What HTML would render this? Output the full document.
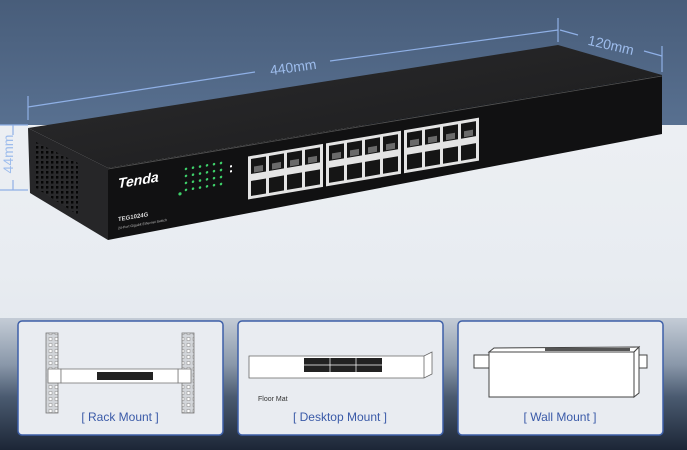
<!DOCTYPE html>
<html><head><meta charset="utf-8"><style>
html,body{margin:0;padding:0;width:687px;height:450px;overflow:hidden;font-family:"Liberation Sans",sans-serif}
</style></head><body>
<svg width="687" height="450" viewBox="0 0 687 450" xmlns="http://www.w3.org/2000/svg">
<defs>
<linearGradient id="bg" x1="0" y1="0" x2="0" y2="1">
<stop offset="0" stop-color="#485d7a"/><stop offset="1" stop-color="#587090"/></linearGradient>
<linearGradient id="floor" x1="0" y1="0" x2="0" y2="1">
<stop offset="0" stop-color="#f0f2f5"/><stop offset="0.6" stop-color="#e8ecf1"/><stop offset="1" stop-color="#dde3ea"/></linearGradient>
<linearGradient id="low" x1="0" y1="0" x2="0" y2="1">
<stop offset="0" stop-color="#c4ccd6"/><stop offset="0.35" stop-color="#8a98aa"/><stop offset="0.6" stop-color="#4a5a70"/><stop offset="1" stop-color="#1c2636"/></linearGradient>
<linearGradient id="top" x1="0" y1="0" x2="1" y2="1">
<stop offset="0" stop-color="#2c2c2e"/><stop offset="1" stop-color="#1a1a1b"/></linearGradient>
<pattern id="vent" width="5" height="5" patternUnits="userSpaceOnUse"><rect width="5" height="5" fill="#2a2a2c"/><rect x="1" y="1" width="2.4" height="2.6" fill="#050505"/></pattern>
<pattern id="rail" width="6" height="6" patternUnits="userSpaceOnUse"><rect width="6" height="6" fill="#d2d5d9"/><rect x="1" y="1.5" width="3" height="3" fill="#fff" stroke="#888" stroke-width="0.5"/></pattern>
</defs>
<rect width="687" height="450" fill="url(#floor)"/>
<rect width="687" height="125" fill="url(#bg)"/>
<rect y="318" width="687" height="132" fill="url(#low)"/>

<g stroke="#8fb0e6" stroke-width="1.2" fill="none">
<line x1="28" y1="107" x2="255" y2="72"/><line x1="330" y1="61" x2="558" y2="30"/>
<line x1="28" y1="96" x2="28" y2="120"/><line x1="558" y1="18" x2="558" y2="42"/>
<line x1="560" y1="30" x2="578" y2="35"/><line x1="644" y1="51" x2="662" y2="56"/>
<line x1="662" y1="46" x2="662" y2="72"/>
<line x1="0" y1="125" x2="28" y2="125"/><line x1="0" y1="190" x2="28" y2="190"/>
<line x1="13" y1="125" x2="13" y2="135"/><line x1="13" y1="180" x2="13" y2="190"/>
</g>
<g fill="#9dbcec" font-size="14">
<text x="293" y="72" text-anchor="middle" transform="rotate(-8 293 66)">440mm</text>
<text x="611" y="50" text-anchor="middle" transform="rotate(13 611 45)">120mm</text>
<text x="17" y="158" text-anchor="middle" transform="rotate(-90 13 158)">44mm</text>
</g>

<polygon points="28,128 558,45 662,75 108,168" fill="url(#top)"/>
<polygon points="28,128 108,168 108,240 30,193" fill="#262628"/>
<polygon points="36,142 78,163 78,215 36,188" fill="url(#vent)"/>
<polygon points="108,168 662,75 662,134 108,240" fill="#111112"/>
<line x1="108" y1="169" x2="662" y2="76" stroke="#555" stroke-width="0.8"/>
<g transform="matrix(1,-0.168,0,1,108,168)">
<text x="10" y="22" fill="#fff" font-size="14" font-style="italic" font-weight="bold">Tenda</text>
<text x="10" y="55" fill="#ddd" font-size="6" font-weight="bold">TEG1024G</text>
<text x="10" y="63" fill="#bbb" font-size="3.5">24-Port Gigabit Ethernet Switch</text>
<g fill="#3ed06a">
<circle cx="72" cy="38" r="1.6"/>
<circle cx="78" cy="14" r="1.3"/><circle cx="78" cy="21" r="1.3"/><circle cx="78" cy="28" r="1.3"/><circle cx="78" cy="35" r="1.3"/>
<circle cx="85" cy="14" r="1.3"/><circle cx="85" cy="21" r="1.3"/><circle cx="85" cy="28" r="1.3"/><circle cx="85" cy="35" r="1.3"/>
<circle cx="92" cy="14" r="1.3"/><circle cx="92" cy="21" r="1.3"/><circle cx="92" cy="28" r="1.3"/><circle cx="92" cy="35" r="1.3"/>
<circle cx="99" cy="14" r="1.3"/><circle cx="99" cy="21" r="1.3"/><circle cx="99" cy="28" r="1.3"/><circle cx="99" cy="35" r="1.3"/>
<circle cx="106" cy="14" r="1.3"/><circle cx="106" cy="21" r="1.3"/><circle cx="106" cy="28" r="1.3"/><circle cx="106" cy="35" r="1.3"/>
<circle cx="113" cy="14" r="1.3"/><circle cx="113" cy="21" r="1.3"/><circle cx="113" cy="28" r="1.3"/><circle cx="113" cy="35" r="1.3"/>
</g>
<rect x="122" y="18" width="2" height="2" fill="#fff"/><rect x="122" y="23" width="2" height="2" fill="#fff"/>
<g id="grp">
<rect x="140" y="12" width="75" height="43" fill="#e4e4e4"/>
<g fill="#151515">
<rect x="143" y="15" width="15" height="15"/><rect x="161" y="15" width="15" height="15"/><rect x="179" y="15" width="15" height="15"/><rect x="197" y="15" width="15" height="15"/>
<rect x="143" y="37" width="15" height="15"/><rect x="161" y="37" width="15" height="15"/><rect x="179" y="37" width="15" height="15"/><rect x="197" y="37" width="15" height="15"/>
</g>
<g fill="#6a6a6a">
<rect x="146" y="23" width="9" height="6"/><rect x="164" y="23" width="9" height="6"/><rect x="182" y="23" width="9" height="6"/><rect x="200" y="23" width="9" height="6"/>
</g>
</g>
<use href="#grp" x="78"/><use href="#grp" x="156"/>
</g>

<g stroke="#3d5fa8" stroke-width="1.5" fill="#e9ecf1">
<rect x="18" y="321" width="205" height="114" rx="4"/>
<rect x="238" y="321" width="205" height="114" rx="4"/>
<rect x="458" y="321" width="205" height="114" rx="4"/>
</g>
<g fill="#3a5aa8" font-size="12" text-anchor="middle">
<text x="120" y="421">[ Rack Mount ]</text>
<text x="340" y="421">[ Desktop Mount ]</text>
<text x="560" y="421">[ Wall Mount ]</text>
</g>
<g stroke="#777" stroke-width="0.8">
<rect x="46" y="333" width="12" height="80" fill="url(#rail)"/><rect x="182" y="333" width="12" height="80" fill="url(#rail)"/>
<rect x="48" y="369" width="13" height="14" fill="#fff"/><rect x="178" y="369" width="13" height="14" fill="#fff"/>
<rect x="61" y="369" width="117" height="14" fill="#fff"/>
</g>
<rect x="97" y="372" width="56" height="8" fill="#222"/>
<g stroke="#666" stroke-width="0.8" fill="#fff">
<polygon points="249,356 424,356 432,352 432,374 424,378 249,378"/>
<line x1="424" y1="356" x2="424" y2="378"/>
</g>
<rect x="304" y="358" width="78" height="14" fill="#222"/>
<g stroke="#fff" stroke-width="0.7"><line x1="304" y1="365" x2="382" y2="365"/><line x1="330" y1="358" x2="330" y2="372"/><line x1="356" y1="358" x2="356" y2="372"/></g>
<text x="258" y="401" font-size="7" fill="#333">Floor Mat</text>
<g stroke="#444" stroke-width="1" fill="#fff">
<rect x="474" y="355" width="15" height="13"/><rect x="634" y="355" width="13" height="13"/>
<polygon points="489,352 494,348 639,347 634,352"/>
<rect x="489" y="352" width="145" height="45"/>
<polygon points="634,352 639,347 639,393 634,397"/>
</g>
<rect x="545" y="348" width="85" height="3" fill="#555"/>
</svg>
</body></html>
